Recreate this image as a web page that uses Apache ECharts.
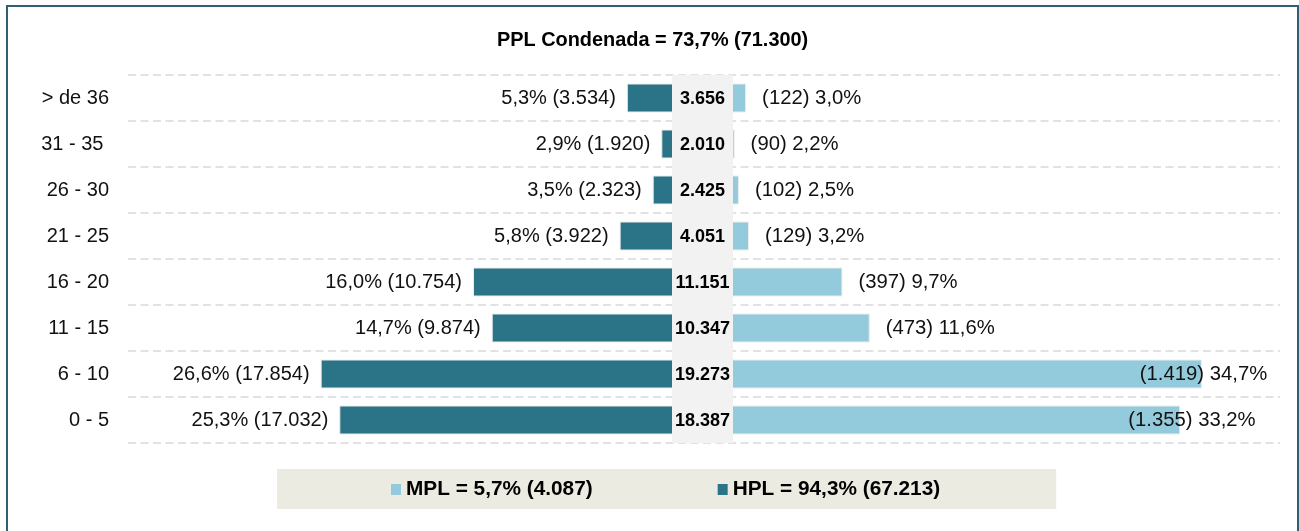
<!DOCTYPE html>
<html>
<head>
<meta charset="utf-8">
<script src="https://cdn.jsdelivr.net/npm/echarts@6/dist/echarts.min.js"></script>
<style>
  html, body { margin: 0; padding: 0; background: #ffffff; }
  #frame { position: absolute; left: 6px; top: 5px; width: 1293px; height: 600px; box-sizing: border-box; border: 2px solid #2e6073; }
  #chart { position: absolute; left: 0; top: 0; width: 1299px; height: 531px; }
</style>
</head>
<body>
<div id="frame"></div>
<div id="chart"></div>
<script>
// ---- data (top row first) ----
const categories = ['> de 36', '31 - 35 ', '26 - 30', '21 - 25', '16 - 20', '11 - 15', '6 - 10', '0 - 5'];
const hplCount = [3534, 1920, 2323, 3922, 10754, 9874, 17854, 17032];
const hplPct   = [5.3, 2.9, 3.5, 5.8, 16.0, 14.7, 26.6, 25.3];
const mplCount = [122, 90, 102, 129, 397, 473, 1419, 1355];
const mplPct   = [3.0, 2.2, 2.5, 3.2, 9.7, 11.6, 34.7, 33.2];
const totals   = [3656, 2010, 2425, 4051, 11151, 10347, 19273, 18387];
const titleText = 'PPL Condenada = 73,7% (71.300)';
const groupShare = { MPL: 5.7, HPL: 94.3 };
const groupTotal = { MPL: 4087, HPL: 67213 };

// ---- styles ----
const FONT = '"Liberation Sans", Arial, sans-serif';
const hplColor = '#2b7487';
const mplColor = '#93cbdc';
const bandColor = '#f2f2f2';
const gridLine = { show: true, lineStyle: { color: '#d9d9d9', width: 1.5, type: [8, 4.5] } };
const rightLabelShift = { 6: -78, 7: -68 };

const fmtInt = n => String(n).replace(/\B(?=(\d{3})+(?!\d))/g, '.');
const fmtPct = p => p.toFixed(1).replace('.', ',') + '%';

const chart = echarts.init(document.getElementById('chart'), null, { renderer: 'canvas' });

const gridTop = 75, gridH = 368;

const option = {
  animation: false,
  title: {
    text: titleText,
    left: 497, top: 31, padding: 0,
    textStyle: { fontFamily: FONT, fontSize: 19.9, fontWeight: 'bold', color: '#000' }
  },
  legend: {
    data: ['MPL', 'HPL'],
    left: 277, top: 469,
    padding: [10, 116, 9, 114],
    backgroundColor: '#ecebe1',
    icon: 'rect', itemWidth: 10, itemHeight: 11, itemGap: 125,
    itemStyle: { borderWidth: 0 },
    selectedMode: false,
    textStyle: { fontFamily: FONT, fontSize: 20.8, fontWeight: 'bold', color: '#000' },
    formatter: name => `${name} = ${fmtPct(groupShare[name])} (${fmtInt(groupTotal[name])})`
  },
  grid: [
    { left: 128, width: 575, top: gridTop, height: gridH },
    { left: 703, width: 577, top: gridTop, height: gridH },
    { left: 672, width: 61, top: gridTop, height: gridH }
  ],
  xAxis: [
    { gridIndex: 0, type: 'value', min: 0, max: 40, inverse: true, show: false },
    { gridIndex: 1, type: 'value', min: 0, max: 40.14, show: false },
    { gridIndex: 2, type: 'value', min: 0, max: 1, show: false }
  ],
  yAxis: [
    {
      gridIndex: 0, type: 'category', data: categories, inverse: true,
      position: 'left',
      axisLine: { show: false, onZero: false }, axisTick: { show: false },
      axisLabel: { margin: 19, fontFamily: FONT, fontSize: 20, color: '#111' },
      splitLine: gridLine
    },
    {
      gridIndex: 1, type: 'category', data: categories, inverse: true,
      axisLine: { show: false }, axisTick: { show: false }, axisLabel: { show: false },
      splitLine: gridLine
    },
    {
      gridIndex: 2, type: 'category', data: categories, inverse: true,
      axisLine: { show: false }, axisTick: { show: false }, axisLabel: { show: false },
      splitLine: { show: false }
    }
  ],
  series: [
    {
      name: 'HPL', type: 'bar', xAxisIndex: 0, yAxisIndex: 0,
      data: hplPct, barWidth: 29, z: 2,
      itemStyle: { color: hplColor, borderColor: '#ececec', borderWidth: 1 },
      label: {
        show: true, position: 'left', distance: 11,
        fontFamily: FONT, fontSize: 20, color: '#111',
        formatter: p => `${fmtPct(hplPct[p.dataIndex])} (${fmtInt(hplCount[p.dataIndex])})`
      }
    },
    {
      name: 'MPL', type: 'bar', xAxisIndex: 1, yAxisIndex: 1,
      data: mplPct.map((v, i) => ({
        value: v,
        label: rightLabelShift[i] !== undefined ? { offset: [rightLabelShift[i], 0] } : undefined
      })),
      barWidth: 29, z: 2,
      itemStyle: { color: mplColor, borderColor: '#ececec', borderWidth: 1 },
      label: {
        show: true, position: 'right', distance: 16,
        fontFamily: FONT, fontSize: 20.3, color: '#111',
        formatter: p => `(${fmtInt(mplCount[p.dataIndex])}) ${fmtPct(mplPct[p.dataIndex])}`
      }
    },
    {
      name: 'Total', type: 'custom', xAxisIndex: 2, yAxisIndex: 2, z: 5, clip: false,
      encode: { y: 0, x: 1 },
      data: totals.map((t, i) => [i, t]),
      renderItem: (params, api) => {
        const idx = params.dataIndex;
        const cs = params.coordSys;
        const c = api.coord([0.5, idx]);
        const h = api.size([0, 1])[1];
        return {
          type: 'group',
          children: [
            { type: 'rect', shape: { x: cs.x, y: c[1] - h / 2, width: cs.width, height: h },
              style: { fill: bandColor } },
            { type: 'text', x: cs.x + cs.width / 2, y: c[1] + 1,
              style: { text: fmtInt(totals[idx]), align: 'center', verticalAlign: 'middle',
                       font: 'bold 18px ' + FONT, fill: '#000' } }
          ]
        };
      }
    }
  ]
};
chart.setOption(option);
</script>
</body>
</html>
